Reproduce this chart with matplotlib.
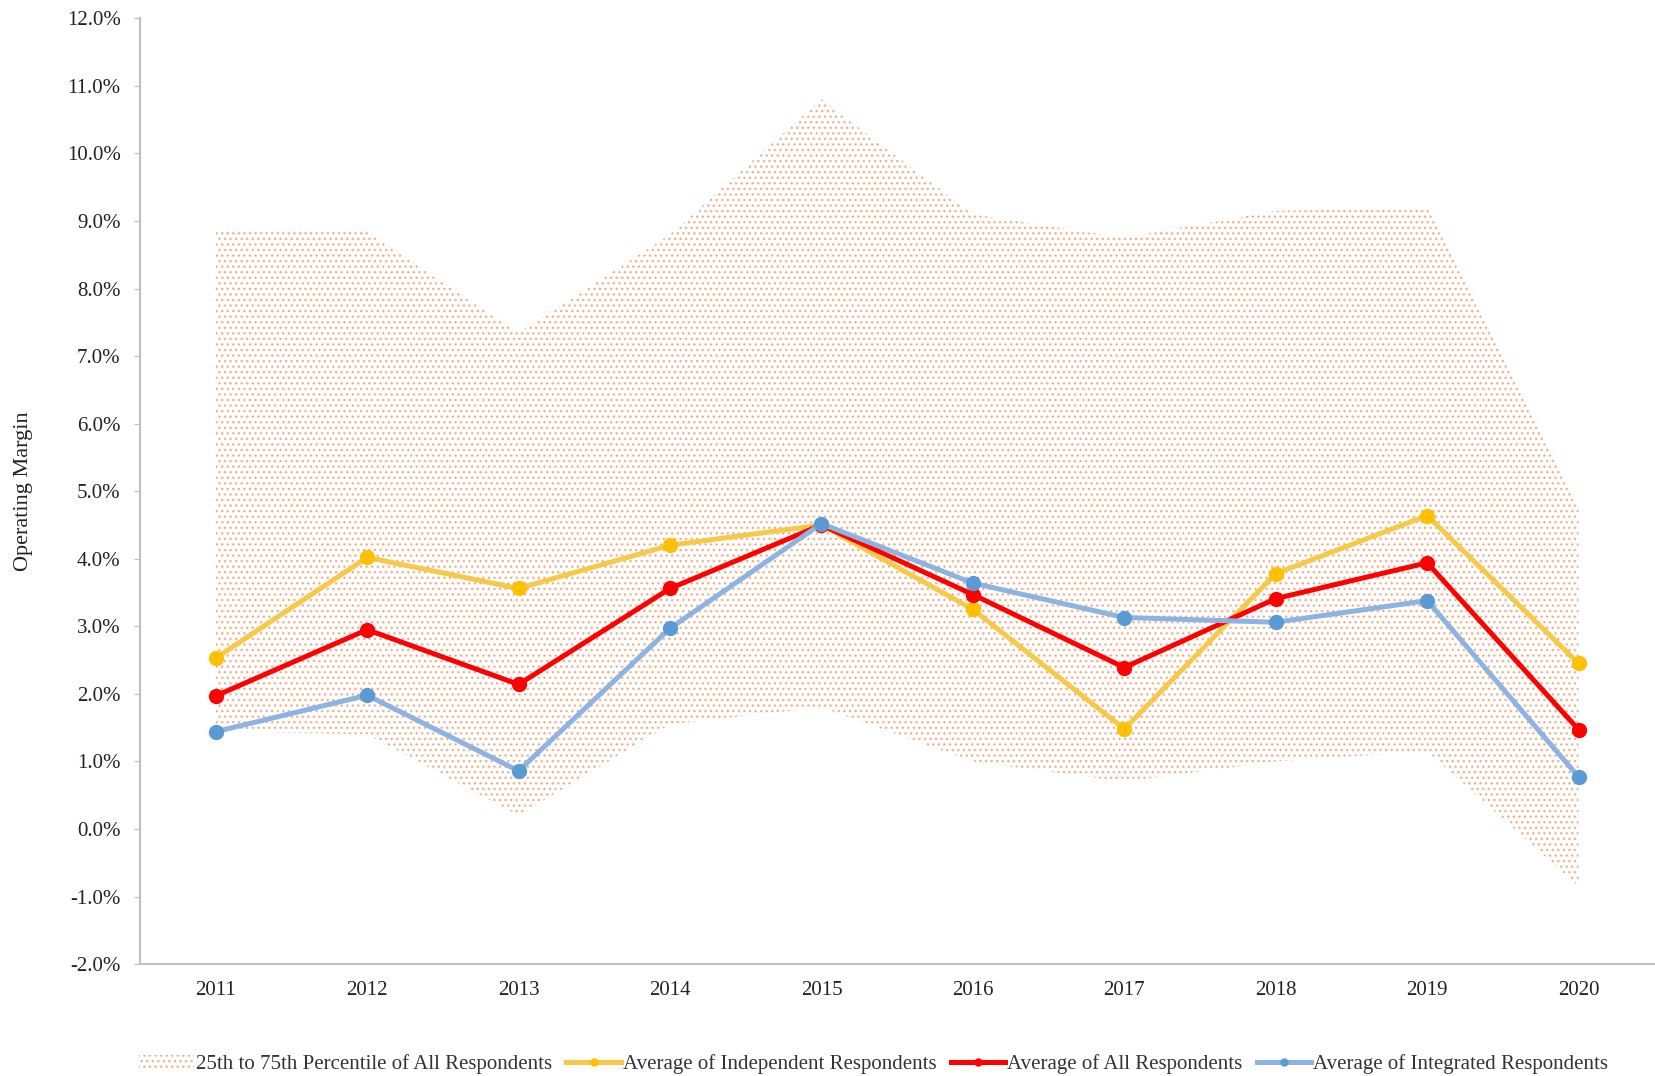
import numpy as np
import matplotlib
matplotlib.use("Agg")
import matplotlib.pyplot as plt
from matplotlib.patches import Patch
from matplotlib.lines import Line2D
from matplotlib.ticker import FuncFormatter

# --- dati ---
years = [2011, 2012, 2013, 2014, 2015, 2016, 2017, 2018, 2019, 2020]
p75 = [8.85, 8.85, 7.35, 8.8, 10.8, 9.1, 8.75, 9.15, 9.2, 4.8]
p25 = [1.45, 1.4, 0.2, 1.55, 1.8, 1.0, 0.7, 1.0, 1.15, -0.85]
avg_independent = [2.53, 4.02, 3.56, 4.2, 4.5, 3.25, 1.48, 3.78, 4.64, 2.45]
avg_all = [1.97, 2.95, 2.14, 3.56, 4.5, 3.47, 2.39, 3.41, 3.94, 1.47]
avg_integrated = [1.44, 1.98, 0.86, 2.97, 4.52, 3.64, 3.13, 3.06, 3.38, 0.77]

labels = ['25th to 75th Percentile of All Respondents',
          'Average of Independent Respondents',
          'Average of All Respondents',
          'Average of Integrated Respondents']

plt.rcParams['font.family'] = ['Liberation Serif', 'DejaVu Serif']
plt.rcParams['hatch.linewidth'] = 1.0

c_band = '#EE9866'
c_yel_line, c_yel_mk = '#F7C948', '#FFC000'
c_red = '#FF0000'
c_blu_line, c_blu_mk = '#8DB3E2', '#5B9BD5'

fig = plt.figure(figsize=(16.55, 10.76), dpi=100)
ax = fig.add_axes([0.0846, 0.104, 0.915, 0.879])

# banda percentili (area punteggiata)
ax.fill_between(years, p25, p75, facecolor='none', edgecolor=c_band,
                hatch='...', linewidth=0, alpha=0.7, zorder=1)

# serie
ax.plot(years, avg_independent, color=c_yel_line, lw=3.6, marker='o', ms=10,
        mfc=c_yel_mk, mec=c_yel_mk, zorder=3)
ax.plot(years, avg_all, color=c_red, lw=3.6, marker='o', ms=10,
        mfc=c_red, mec=c_red, zorder=4)
ax.plot(years, avg_integrated, color=c_blu_line, lw=3.6, marker='o', ms=10,
        mfc=c_blu_mk, mec=c_blu_mk, zorder=5)

# assi
ax.set_xlim(2010.5, 2020.5)
ax.set_ylim(-2.0, 12.0)
ax.set_xticks(years)
ax.set_yticks(np.arange(-2, 12.1, 1))
ax.yaxis.set_major_formatter(FuncFormatter(lambda v, p: f'{v:.1f}%'))
for s in ['top', 'right']:
    ax.spines[s].set_visible(False)
for s in ['left', 'bottom']:
    ax.spines[s].set_color('#BFBFBF')
    ax.spines[s].set_linewidth(1.5)
ax.tick_params(axis='y', length=4, color='#BFBFBF', labelsize=15, pad=10,
               labelcolor='#222222')
ax.tick_params(axis='x', length=0, labelsize=15, pad=12, labelcolor='#222222')
ax.set_ylabel('Operating Margin', fontsize=16, labelpad=24, color='#222222')

# legenda
handles = [
    Patch(facecolor='none', edgecolor=c_band, hatch='...', linewidth=0, alpha=0.7),
    Line2D([], [], color=c_yel_line, lw=3.6, marker='o', ms=5, mfc=c_yel_mk, mec=c_yel_mk),
    Line2D([], [], color=c_red, lw=3.6, marker='o', ms=5, mfc=c_red, mec=c_red),
    Line2D([], [], color=c_blu_line, lw=3.6, marker='o', ms=5, mfc=c_blu_mk, mec=c_blu_mk),
]
fig.legend(handles, labels, loc='lower center', bbox_to_anchor=(0.528, -0.016),
           ncol=4, frameon=False, fontsize=15, handlelength=2.6,
           handletextpad=0.1, columnspacing=0.7, labelcolor='#333333')

fig.savefig('out.png', dpi=100)
